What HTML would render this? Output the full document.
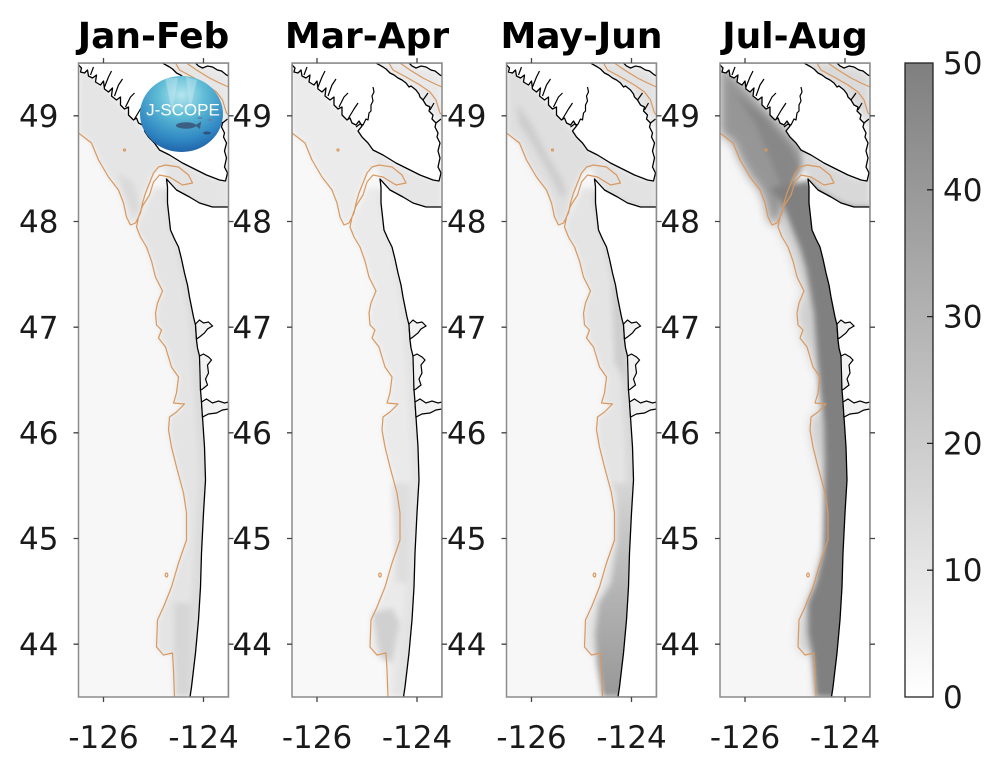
<!DOCTYPE html>
<html><head><meta charset="utf-8">
<style>
html,body{margin:0;padding:0;background:#fff;}
svg{display:block;}
.tk{font-family:"DejaVu Sans","Liberation Sans",sans-serif;font-size:31px;fill:#1a1a1a;}
.tt{font-family:"DejaVu Sans","Liberation Sans",sans-serif;font-size:36px;font-weight:bold;fill:#000;}
</style></head>
<body>
<svg width="1000" height="768" viewBox="0 0 1000 768" xmlns="http://www.w3.org/2000/svg">
<defs>
  <filter id="bl" x="-20%" y="-20%" width="140%" height="140%"><feGaussianBlur stdDeviation="3"/></filter>
  <filter id="bl2" x="-20%" y="-20%" width="140%" height="140%"><feGaussianBlur stdDeviation="5"/></filter>
  <linearGradient id="cbg" x1="0" y1="1" x2="0" y2="0">
    <stop offset="0" stop-color="#ffffff"/><stop offset="1" stop-color="#7f7f7f"/>
  </linearGradient>
  <linearGradient id="s3g" gradientUnits="userSpaceOnUse" x1="0" y1="420" x2="0" y2="634">
    <stop offset="0" stop-color="#d6d6d6"/><stop offset="0.5" stop-color="#b4b4b4"/><stop offset="1" stop-color="#989898"/>
  </linearGradient>
  <radialGradient id="lg" cx="0.5" cy="0.25" r="0.8">
    <stop offset="0" stop-color="#b6e6ee"/><stop offset="0.35" stop-color="#5fbcd6"/><stop offset="0.75" stop-color="#2f86c2"/><stop offset="1" stop-color="#1d59a3"/>
  </radialGradient>

  <path id="NR" d="M0,0 L0,70 L13,80 L20,97 L30,114 L40,127 L45,140 L48,154 L52,162 L57,160 L62,150 L67,130 L75,110 L87,102 L85,88 L60,60 L20,18 Z"/>
  <path id="SH" d="M58,164 L62,174 L68,184 L73,198 L77,214 L84,228 L79,240 L77,250 L78,262 L83,267 L80,275 L87,284 L93,304 L100,314 L98,330 L95,340 L106,341 L98,349 L91,354 L90,367 L93,384 L98,404 L105,430 L108,450 L108,477 L100,500 L93,524 L85,544 L79,557 L78,584 L85,592 L94,590 L95,607 L96,634 L150,634 L150,140 L88,125 L75,125 Z"/>
  <path id="CB" d="M85,130 L92,167 L98,184 L103,210 L107,234 L110,254 L112,280 L115,320 L117,354 L119,384 L120,417 L118,450 L116,490 L114,524 L111,557 L107,590 L103,624 L102,634 L150,634 L150,130 Z"/>
  <path id="ST" d="M81,87 L88,116 L98,127 L111,134 L121,140 L134,144 L150,144 L150,100 L141,117 L128,112 L118,107 L104,100 L91,92 Z"/>
  <path id="GS" d="M84,0 L91,4 L98,10 L106,15 L114,20 L124,27 L131,37 L138,47 L144,54 L148,64 L150,64 L150,13 L148,12 L134,4 L124,5 L117,0 Z"/>
  <path id="D4" d="M50,125 L62,140 L72,165 L80,185 L86,205 L90,227 L94,250 L97,290 L100,325 L104,360 L105,400 L104,450 L103,490 L96,520 L88,540 L88,570 L92,590 L96,634 L150,634 L150,120 L88,118 Z"/>
  <path id="S3" d="M104,420 L110,430 L110,480 L104,520 L92,540 L88,570 L90,600 L96,634 L150,634 L150,420 Z"/>

  <g id="over">
    <path fill="#fff" stroke="#000" stroke-width="1.3" stroke-linejoin="round" d="M0,0 L0,2 L3,5 L2,9 L6,10 L9,7 L10,13 L14,15 L18,12 L17,19 L22,22 L25,18 L26,26 L30,29 L34,25 L33,33 L38,37 L42,34 L42,42 L46,46 L50,44 L50,52 L55,57 L58,55 L60,60 L64,62 L67,58 L70,63 L66,68 L70,74 L76,80 L81,87 L91,92 L104,100 L118,107 L128,112 L141,117 L147,118 L149,110 L146,104 L148,95 L146,88 L148,80 L145,74 L146,70 L143,64 L144,60 L140,56 L141,52 L137,48 L138,44 L134,42 L131,37 L128,34 L127,31 L124,27 L119,23 L117,24 L114,20 L110,17 L106,15 L102,12 L98,10 L94,6 L91,4 L84,0 Z"/>
    <path fill="#fff" stroke="#000" stroke-width="1.3" d="M117,0 L120,3 L124,5 L129,3 L134,4 L139,7 L143,8 L148,12 L150,13 L150,0 Z"/>
    <path fill="#fff" stroke="#000" stroke-width="1.3" stroke-linejoin="round" d="M88,116 L89,124 L89,140 L92,167 L96,176 L100,184 L103,196 L106,210 L109,222 L111,234 L113,244 L115,254 L117,262 L118,277 L119,285 L121,293 L122,310 L122,327 L123,339 L124,354 L126,384 L127,417 L125,450 L123,490 L122,524 L120,557 L117,590 L113,624 L111.5,634 L150,634 L150,144 L134,144 L121,140 L111,134 L98,127 Z"/>
    <path fill="#f2f2f2" stroke="#000" stroke-width="1.2" d="M117,261 L121,257 L125,260 L130,259 L134,263 L129,266 L126,270 L121,274 L118,276 Z"/>
    <path fill="#f2f2f2" stroke="#000" stroke-width="1.2" d="M121,293 L125,291 L130,294 L133,297 L129,302 L130,310 L127,316 L129,322 L124,326 L122,327 Z"/>
    <path fill="#f2f2f2" stroke="#000" stroke-width="1.2" d="M123,339 L128,336 L134,340 L140,338 L146,340 L150,339 L150,346 L144,347 L138,350 L130,351 L124,354 Z"/>
    <g fill="none" stroke="#000" stroke-width="1.2" stroke-linejoin="round">
      <path d="M64,64 L68,61 L71,62 L74,56 L76,57 L77,50 L79,48 L79,42 L81,38 L80,33 L82,29 L81,24"/>
      <path d="M26,24 L30,14 L33,8"/>
      <path d="M36,33 L40,22 L44,16"/>
      <path d="M47,44 L52,34 L56,30"/>
      <path d="M56,56 L62,46 L66,40"/>
      <path d="M12,12 L15,4"/>
      <path d="M131,37 L136,30 M138,47 L142,40 M144,60 L149,56"/>
    </g>
    <g fill="none" stroke="#d9985f" stroke-width="1.2" stroke-linejoin="round">
      <path d="M0,70 L13,80 L20,97 L30,114 L40,127 L45,140 L48,154 L52,162 L57,160 L62,150 L64,140 L67,130 L71,120 L75,110 L80,104 L87,102 L100,104 L110,112 L114,120 L104,122 L91,114 L81,112 L75,119 L71,132 L64,143 L60,154 L58,164 L62,174 L68,184 L73,198 L77,214 L84,228 L79,240 L77,250 L78,262 L83,267 L80,275 L87,284 L93,304 L100,314 L98,330 L95,340 L106,341 L98,349 L91,354 L90,367 L93,384 L98,404 L105,430 L108,450 L108,477 L100,500 L93,524 L85,544 L79,557 L78,584 L85,592 L94,590 L95,607 L96,634"/>
      <path d="M97,0 L101,7 L114,14 L128,22 L138,29 L144,37 L148,50 L150,52"/>
      <path d="M108,0 L118,7 L131,15 L141,20 L150,24"/>
      <circle cx="46" cy="87" r="1"/>
      <ellipse cx="88" cy="512" rx="1.3" ry="2"/>
    </g>
  </g>
</defs>

<text class="tt" x="153.5" y="48" text-anchor="middle">Jan-Feb</text>
<text class="tt" x="367" y="48" text-anchor="middle">Mar-Apr</text>
<text class="tt" x="581.5" y="48" text-anchor="middle">May-Jun</text>
<text class="tt" x="795" y="48" text-anchor="middle">Jul-Aug</text>

<!-- Panel 1 -->
<svg x="78.5" y="63" width="150" height="634" viewBox="0 0 150 634" overflow="hidden">
  <rect width="150" height="634" fill="#f7f7f7"/>
  <g filter="url(#bl)">
    <use href="#NR" fill="#e5e5e5"/>
    <path d="M40,110 L55,120 L62,145 L56,155 L45,130 Z" fill="#d9d9d9"/>
    <use href="#SH" fill="#e4e4e4"/>
    <use href="#CB" fill="#dcdcdc"/>
    <path d="M95,540 L112,540 L110,634 L96,634 Z" fill="#d6d6d6"/>
    <use href="#ST" fill="#e4e4e4"/>
    <use href="#GS" fill="#e6e6e6"/>
  </g>
  <use href="#over"/>
</svg>

<!-- Panel 2 -->
<svg x="292" y="63" width="150" height="634" viewBox="0 0 150 634" overflow="hidden">
  <rect width="150" height="634" fill="#f8f8f8"/>
  <g filter="url(#bl)">
    <use href="#NR" fill="#ebebeb"/>
    <use href="#SH" fill="#eaeaea"/>
    <use href="#CB" fill="#e3e3e3"/>
    <path d="M80,550 L100,545 L108,560 L100,600 L88,595 Z" fill="#d0d0d0"/>
    <path d="M100,420 L118,420 L116,520 L104,520 Z" fill="#dedede"/>
    <use href="#ST" fill="#e6e6e6"/>
    <use href="#GS" fill="#e8e8e8"/>
  </g>
  <use href="#over"/>
</svg>

<!-- Panel 3 -->
<svg x="506.5" y="63" width="150" height="634" viewBox="0 0 150 634" overflow="hidden">
  <rect width="150" height="634" fill="#f7f7f7"/>
  <g filter="url(#bl)">
    <use href="#NR" fill="#dfdfdf"/>
    <path d="M10,40 L25,60 L40,90 L55,115 L60,130 L55,135 L42,110 L28,85 L12,60 Z" fill="#cdcdcd"/>
    <use href="#SH" fill="#e4e4e4"/>
    <use href="#CB" fill="#d8d8d8"/>
    <path d="M105,220 L118,230 L120,320 L108,300 Z" fill="#cdcdcd"/>
    <use href="#S3" fill="url(#s3g)"/>
    <use href="#ST" fill="#e2e2e2"/>
    <use href="#GS" fill="#e2e2e2"/>
  </g>
  <use href="#over"/>
</svg>

<!-- Panel 4 -->
<svg x="720" y="63" width="150" height="634" viewBox="0 0 150 634" overflow="hidden">
  <rect width="150" height="634" fill="#f6f6f6"/>
  <g filter="url(#bl2)">
    <use href="#SH" fill="#cfcfcf"/>
    <use href="#NR" fill="#969696"/>
  </g>
  <g filter="url(#bl)">
    <path d="M15,30 L35,60 L50,95 L60,120 L62,145 L70,125 L80,105 L70,85 L45,55 Z" fill="#878787"/>
    <use href="#D4" fill="#808080"/>
    <use href="#ST" fill="#d8d8d8"/>
    <use href="#GS" fill="#dadada"/>
  </g>
  <use href="#over"/>
</svg>

<g fill="none" stroke="#8c8c8c" stroke-width="1.5">
  <rect x="78.5" y="63" width="150" height="634"/>
  <rect x="292" y="63" width="150" height="634"/>
  <rect x="506.5" y="63" width="150" height="634"/>
  <rect x="720" y="63" width="150" height="634"/>
</g>
<g stroke="#444" stroke-width="1.3">
  <path d="M73.5,115.8H78.5M73.5,221.5H78.5M73.5,327.2H78.5M73.5,432.8H78.5M73.5,538.5H78.5M73.5,644.2H78.5"/>
  <path d="M228.5,115.8H233.5M228.5,221.5H233.5M228.5,327.2H233.5M228.5,432.8H233.5M228.5,538.5H233.5M228.5,644.2H233.5"/>
  <path d="M103.5,58V63M203.5,58V63M103.5,697V702M203.5,697V702"/>
  <path d="M287,115.8H292M287,221.5H292M287,327.2H292M287,432.8H292M287,538.5H292M287,644.2H292"/>
  <path d="M442,115.8H447M442,221.5H447M442,327.2H447M442,432.8H447M442,538.5H447M442,644.2H447"/>
  <path d="M317,58V63M417,58V63M317,697V702M417,697V702"/>
  <path d="M501.5,115.8H506.5M501.5,221.5H506.5M501.5,327.2H506.5M501.5,432.8H506.5M501.5,538.5H506.5M501.5,644.2H506.5"/>
  <path d="M656.5,115.8H661.5M656.5,221.5H661.5M656.5,327.2H661.5M656.5,432.8H661.5M656.5,538.5H661.5M656.5,644.2H661.5"/>
  <path d="M531.5,58V63M631.5,58V63M531.5,697V702M631.5,697V702"/>
  <path d="M715,115.8H720M715,221.5H720M715,327.2H720M715,432.8H720M715,538.5H720M715,644.2H720"/>
  <path d="M870,115.8H875M870,221.5H875M870,327.2H875M870,432.8H875M870,538.5H875M870,644.2H875"/>
  <path d="M745,58V63M845,58V63M745,697V702M845,697V702"/>
</g>

<g>
  <ellipse cx="181.5" cy="114" rx="41.5" ry="38" fill="url(#lg)"/>
  <path d="M165,78 L172,112 L178,78 Z M186,77 L190,110 L197,80 Z" fill="#d8f2f6" opacity="0.35"/>
  <ellipse cx="186" cy="125.5" rx="10" ry="3.2" fill="#3b5f82"/>
  <path d="M195,125.5 L201,121.5 L200,129 Z" fill="#3b5f82"/>
  <ellipse cx="207" cy="133" rx="4" ry="1.5" fill="#2f5478"/>
  <ellipse cx="200" cy="118" rx="2.5" ry="1" fill="#5a86a8"/>
  <ellipse cx="210" cy="120" rx="2.5" ry="1" fill="#5a86a8"/>
  <text x="183" y="115.5" text-anchor="middle" font-family="Liberation Sans, DejaVu Sans, sans-serif" font-size="17" fill="#ffffff">J-SCOPE</text>
</g>

<g class="tk" text-anchor="end">
  <text x="58.5" y="127">49</text><text x="58.5" y="232.7">48</text><text x="58.5" y="338.4">47</text><text x="58.5" y="444">46</text><text x="58.5" y="549.7">45</text><text x="58.5" y="655.4">44</text>
  <text x="272" y="127">49</text><text x="272" y="232.7">48</text><text x="272" y="338.4">47</text><text x="272" y="444">46</text><text x="272" y="549.7">45</text><text x="272" y="655.4">44</text>
  <text x="486.5" y="127">49</text><text x="486.5" y="232.7">48</text><text x="486.5" y="338.4">47</text><text x="486.5" y="444">46</text><text x="486.5" y="549.7">45</text><text x="486.5" y="655.4">44</text>
  <text x="700" y="127">49</text><text x="700" y="232.7">48</text><text x="700" y="338.4">47</text><text x="700" y="444">46</text><text x="700" y="549.7">45</text><text x="700" y="655.4">44</text>
</g>

<g class="tk" text-anchor="middle">
  <text x="103.5" y="748">-126</text><text x="203.5" y="748">-124</text>
  <text x="317" y="748">-126</text><text x="417" y="748">-124</text>
  <text x="531.5" y="748">-126</text><text x="631.5" y="748">-124</text>
  <text x="745" y="748">-126</text><text x="845" y="748">-124</text>
</g>

<rect x="905" y="63" width="28" height="634" fill="url(#cbg)" stroke="#222" stroke-width="1.3"/>
<g stroke="#222" stroke-width="1.3">
  <path d="M927,570.2H933M927,443.4H933M927,316.6H933M927,189.8H933"/>
</g>
<g class="tk" text-anchor="start">
  <text x="943" y="708">0</text>
  <text x="943" y="581.2">10</text>
  <text x="943" y="454.4">20</text>
  <text x="943" y="327.6">30</text>
  <text x="943" y="200.8">40</text>
  <text x="943" y="74">50</text>
</g>
</svg>
</body></html>
